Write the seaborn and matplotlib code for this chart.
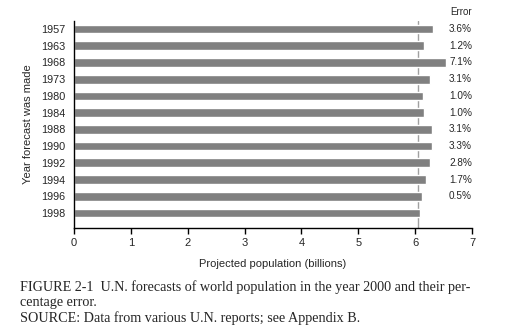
import matplotlib
matplotlib.use("Agg")
import matplotlib.pyplot as plt
import seaborn as sns
import pandas as pd

# UN forecasts of the year-2000 world population
years = ["1957", "1963", "1968", "1973", "1980", "1984",
         "1988", "1990", "1992", "1994", "1996", "1998"]
projected = [6.32, 6.15, 6.54, 6.27, 6.13, 6.15,
             6.29, 6.29, 6.27, 6.19, 6.12, 6.08]
error_labels = ["3.6%", "1.2%", "7.1%", "3.1%", "1.0%", "1.0%",
                "3.1%", "3.3%", "2.8%", "1.7%", "0.5%", ""]
actual_2000 = 6.05
x_ticks = [0, 1, 2, 3, 4, 5, 6, 7]

df = pd.DataFrame({"year": years, "projected": projected})

sns.set_style("ticks")
plt.rcParams["font.family"] = ["Liberation Sans", "DejaVu Sans"]

fig = plt.figure(figsize=(5.06, 3.36), dpi=100)
ax = fig.add_axes([74 / 506, 1 - 228 / 336, (472 - 74) / 506, (228 - 21) / 336])

sns.barplot(data=df, x="projected", y="year", order=years, orient="h",
            color="#808080", saturation=1, width=0.52, ax=ax)

# actual 2000 population, drawn behind the bars
ax.axvline(actual_2000, color="#a0a0a0", lw=1.0, zorder=0)

ax.set_xlim(0, 7)
ax.set_ylim(11.9, -0.48)
ax.set_xticks(x_ticks)
ax.set_xticklabels([str(t) for t in x_ticks], fontsize=8)
ax.tick_params(axis="x", direction="out", length=4, width=1, color="black", pad=3)
ax.tick_params(axis="y", length=0, labelsize=7.8, pad=6)
ax.set_xlabel("Projected population (billions)", fontsize=8, labelpad=8)
ax.set_ylabel("Year forecast was made", fontsize=8, labelpad=6)

for side in ["top", "right"]:
    ax.spines[side].set_visible(False)
for side in ["left", "bottom"]:
    ax.spines[side].set_color("black")
    ax.spines[side].set_linewidth(1)

# Error column to the right of the bars
ax.text(7.0, -1.0, "Error", fontsize=7, ha="right", va="center")
for i, lab in enumerate(error_labels):
    if lab:
        ax.text(7.0, i, lab, fontsize=7.2, ha="right", va="center")

caption = ("FIGURE 2-1  U.N. forecasts of world population in the year 2000 and their per-\n"
           "centage error.\n"
           "SOURCE: Data from various U.N. reports; see Appendix B.")
fig.text(20 / 506, 1 - 280 / 336, caption, fontsize=10.2, family="Liberation Serif",
         ha="left", va="top", linespacing=1.22)

fig.savefig("out.png", dpi=100)
